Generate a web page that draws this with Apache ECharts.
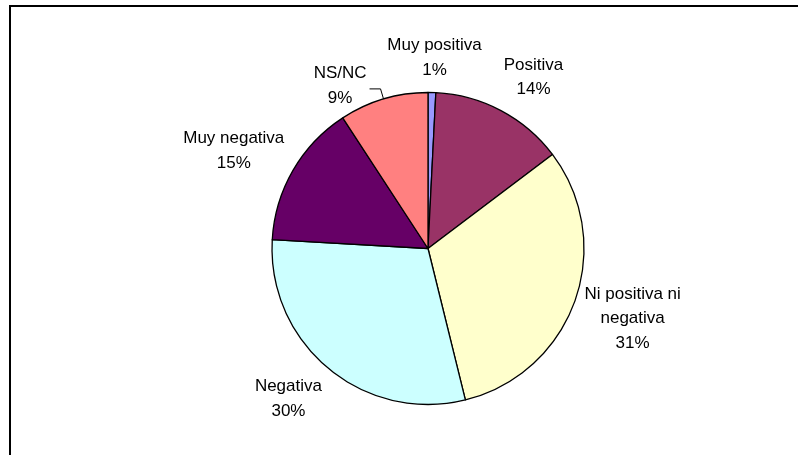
<!DOCTYPE html>
<html><head><meta charset="utf-8">
<script src="https://cdn.jsdelivr.net/npm/echarts@6/dist/echarts.min.js"></script>
<style>html,body{margin:0;padding:0;background:#fff}#c{width:798px;height:455px}</style>
</head><body><div id="c"></div>
<script>
const categories = ['Muy positiva', 'Positiva', 'Ni positiva ni\nnegativa', 'Negativa', 'Muy negativa', 'NS/NC'];
const values = [0.8, 13.9, 31.45, 29.75, 14.9, 9.2];
const colors = ['#9999FF', '#993366', '#FFFFCC', '#CCFFFF', '#660066', '#FF8080'];
const leaderLabels = ['NS/NC'];

const CX = 428, CY = 248.5, R = 156, GAP = 10;
const total = values.reduce((a, b) => a + b, 0);
const midAngles = [];
let acc = 0;
values.forEach(v => { midAngles.push((acc + v / 2) / total * 2 * Math.PI); acc += v; });

const chart = echarts.init(document.getElementById('c'), null, {renderer: 'canvas'});
chart.setOption({
  backgroundColor: '#fff',
  animation: false,
  graphic: [{type: 'rect', silent: true, shape: {x: 10, y: 6, width: 800, height: 470},
    style: {fill: 'none', stroke: '#000', lineWidth: 2}}],
  series: [{
    type: 'pie', center: [CX, CY], radius: R, startAngle: 90, clockwise: true,
    avoidLabelOverlap: false,
    itemStyle: {borderColor: '#000', borderWidth: 1.3},
    label: {show: true, position: 'outside', fontFamily: 'Liberation Sans, Arial, sans-serif',
      fontSize: 17, lineHeight: 24.5, color: '#000',
      formatter: p => p.name + '\n' + Math.round(p.percent) + '%'},
    labelLine: {show: false},
    labelLayout: function (p) {
      const i = p.dataIndex, a = midAngles[i];
      const ux = Math.sin(a), uy = -Math.cos(a);
      const w = p.labelRect.width, h = p.labelRect.height;
      if (leaderLabels.includes(categories[i])) {
        const ex = CX + R * ux, ey = CY + R * uy;
        const L1 = 10.5, L2 = 11;
        const px = CX + (R + L1) * ux, py = CY + (R + L1) * uy;
        const s = ux < 0 ? -1 : 1;
        const qx = px + s * L2, qy = py;
        return {x: qx + s * (3 + w / 2), y: qy - 3, align: 'center', verticalAlign: 'middle',
          labelLinePoints: [[ex, ey], [px, py], [qx, qy]]};
      }
      const clx = v => Math.max(-1, Math.min(1, 2 * v));
      const cly = v => Math.max(-1, Math.min(1, 1.2 * v));
      const D = R + GAP;
      const ax = CX + D * ux, ay = CY + D * uy;
      return {x: ax + clx(ux) * w / 2, y: ay + cly(uy) * h / 2, align: 'center', verticalAlign: 'middle'};
    },
    data: categories.map((c, i) => ({
      name: c, value: values[i], itemStyle: {color: colors[i]},
      labelLine: leaderLabels.includes(c)
        ? {show: true, length: 10, length2: 11, lineStyle: {color: '#000', width: 1}}
        : {show: false}
    }))
  }]
});
</script></body></html>
